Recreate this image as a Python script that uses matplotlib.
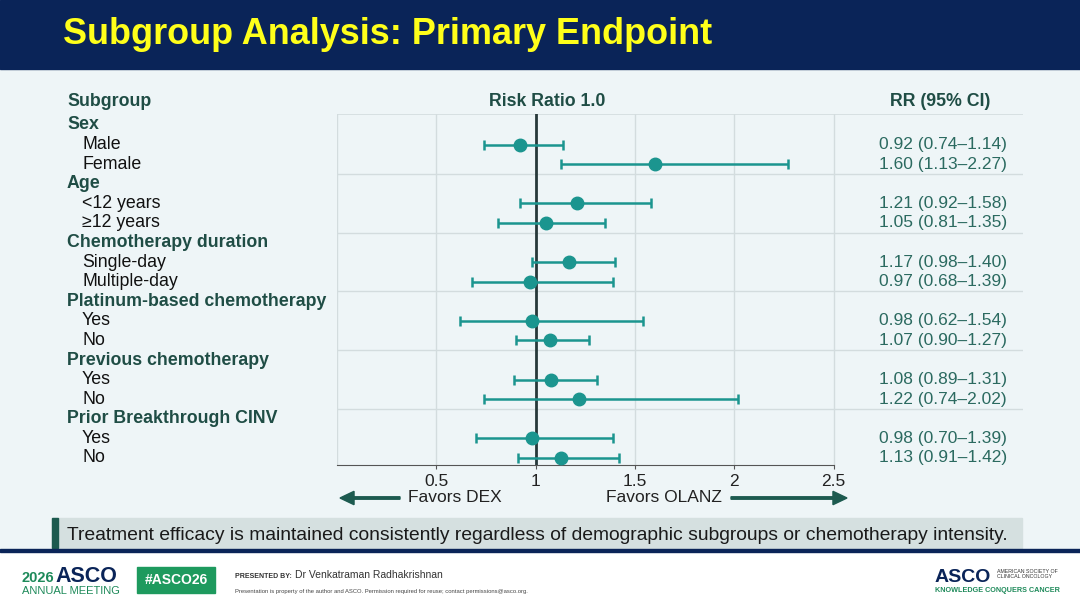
import matplotlib.pyplot as plt
from matplotlib.patches import Rectangle, FancyArrow
from matplotlib.transforms import blended_transform_factory

# Data
groups = ["Sex", "Age", "Chemotherapy duration", "Platinum-based chemotherapy",
          "Previous chemotherapy", "Prior Breakthrough CINV"]
subgroups = [["Male", "Female"], ["<12 years", "\u226512 years"], ["Single-day", "Multiple-day"],
             ["Yes", "No"], ["Yes", "No"], ["Yes", "No"]]
rr = [0.92, 1.60, 1.21, 1.05, 1.17, 0.97, 0.98, 1.07, 1.08, 1.22, 0.98, 1.13]
ci_low = [0.74, 1.13, 0.92, 0.81, 0.98, 0.68, 0.62, 0.90, 0.89, 0.74, 0.70, 0.91]
ci_high = [1.14, 2.27, 1.58, 1.35, 1.40, 1.39, 1.54, 1.27, 1.31, 2.02, 1.39, 1.42]
xticks = [0.5, 1, 1.5, 2, 2.5]

plt.rcParams['font.family'] = ['Liberation Sans', 'DejaVu Sans']

BG = '#eef5f7'
NAVY = '#0a2458'
TEAL = '#1b958f'
DKGREEN = '#1f4d45'
GRID = '#d3dcde'

fig = plt.figure(figsize=(10.8, 6.08), dpi=100, facecolor=BG)

# title bar
fig.patches.append(Rectangle((0, 1 - 69/608), 1, 69/608, transform=fig.transFigure,
                             color=NAVY, zorder=0))
fig.text(63/1080, 1 - 34/608, "Subgroup Analysis: Primary Endpoint", color='#ffff1a',
         fontsize=25.9, fontweight='bold', va='center', ha='left')

ax = fig.add_axes([337/1080, 1 - 465/608, (1023 - 337)/1080, (465 - 114)/608])
ax.set_facecolor(BG)
ax.set_xlim(0, (1023 - 337)/198.6)
ax.set_ylim(17.36, -0.56)

# row positions: heading then its items
ypos = []
heads = []
r = 0
for g, subs in zip(groups, subgroups):
    heads.append(r)
    r += 1
    for s in subs:
        ypos.append(r)
        r += 1

# grid
for x in [0] + xticks:
    ax.axvline(x, color=GRID, lw=1, zorder=0)
for h in heads[1:]:
    ax.axhline(h - 0.5, color=GRID, lw=1, zorder=0)
ax.axhline(-0.56, color=GRID, lw=1.2, zorder=0)

ax.axvline(1, color='#27393a', lw=2, zorder=2)

for y, m, lo, hi in zip(ypos, rr, ci_low, ci_high):
    ax.errorbar(m, y, xerr=[[m - lo], [hi - m]], fmt='o', color=TEAL, ms=9,
                elinewidth=1.8, capsize=3.6, capthick=1.8, zorder=3)
    ax.text(3.05, y, f"{m:.2f} ({lo:.2f}\u2013{hi:.2f})", ha='center', va='center',
            fontsize=12.5, color='#2b6a60')

for s in ['top', 'right', 'left']:
    ax.spines[s].set_visible(False)
ax.spines['bottom'].set_bounds(0, 2.5)
ax.spines['bottom'].set_color('#555555')
ax.set_xticks(xticks)
ax.set_xticklabels(['0.5', '1', '1.5', '2', '2.5'], fontsize=12.5, color='#222222')
ax.tick_params(axis='x', length=3, color='#555555', pad=3.5)
ax.set_yticks([])

# left labels
tr = blended_transform_factory(fig.transFigure, ax.transData)
for g, subs, h in zip(groups, subgroups, heads):
    ax.text(67/1080, h, g, transform=tr, fontsize=12.8, fontweight='bold',
            color=DKGREEN, va='center', ha='left')
    for k, s in enumerate(subs):
        ax.text(82/1080, h + 1 + k, s, transform=tr, fontsize=12.8, color='#111111',
                va='center', ha='left')

# column headers
fig.text(67/1080, 1 - 101/608, "Subgroup", fontsize=12.8, fontweight='bold', color=DKGREEN, va='center')
fig.text(547/1080, 1 - 101/608, "Risk Ratio 1.0", fontsize=12.8, fontweight='bold', color=DKGREEN,
         va='center', ha='center')
fig.text(940/1080, 1 - 101/608, "RR (95% CI)", fontsize=12.8, fontweight='bold', color=DKGREEN,
         va='center', ha='center')

# favours arrows
ya = 1 - 498/608
fig.text(455/1080, ya, "Favors DEX", fontsize=12.5, color='#222222', ha='center', va='center')
fig.text(664/1080, ya, "Favors OLANZ", fontsize=12.5, color='#222222', ha='center', va='center')
fig.patches.append(FancyArrow(
    400/1080, ya, -60/1080, 0, width=0.004, head_width=0.022, head_length=0.013,
    length_includes_head=True, transform=fig.transFigure, color='#1c5a4f'))
fig.patches.append(FancyArrow(
    731/1080, ya, 116/1080, 0, width=0.004, head_width=0.022, head_length=0.013,
    length_includes_head=True, transform=fig.transFigure, color='#1c5a4f'))

# takeaway banner
fig.patches.append(Rectangle((52/1080, 1 - 548/608), 970/1080, 30/608,
                             transform=fig.transFigure, color='#d5e0e0', zorder=0))
fig.patches.append(Rectangle((52/1080, 1 - 548/608), 6/1080, 30/608,
                             transform=fig.transFigure, color='#1c5a4f', zorder=1))
fig.text(67/1080, 1 - 535/608,
         "Treatment efficacy is maintained consistently regardless of demographic subgroups or chemotherapy intensity.",
         fontsize=13.9, color='#1a1a1a', va='center')

# footer
fig.patches.append(Rectangle((0, 0), 1, 1 - 552/608, transform=fig.transFigure,
                             color='white', zorder=0))
fig.patches.append(Rectangle((0, 1 - 552/608), 1, 3/608, transform=fig.transFigure,
                             color=NAVY, zorder=1))
fig.text(22/1080, 1 - 578/608, "2026", fontsize=10.5, color='#1e8a5a', fontweight='bold', va='center')
fig.text(55/1080, 1 - 576/608, "ASCO", fontsize=15.5, color=NAVY, fontweight='bold', va='center')
fig.text(22/1080, 1 - 591/608, "ANNUAL MEETING", fontsize=8, color='#1e8a5a', va='center')
fig.patches.append(Rectangle((137/1080, 1 - 593/608), 78/1080, 26/608,
                             transform=fig.transFigure, color='#1e9a5e', zorder=1))
fig.text(176/1080, 1 - 580/608, "#ASCO26", fontsize=10, color='white', fontweight='bold',
         ha='center', va='center')
fig.text(235/1080, 1 - 576/608, "PRESENTED BY:", fontsize=5, color='#333333', fontweight='bold', va='center')
fig.text(295/1080, 1 - 575/608, "Dr Venkatraman Radhakrishnan", fontsize=7.5, color='#333333', va='center')
fig.text(235/1080, 1 - 591/608,
         "Presentation is property of the author and ASCO. Permission required for reuse; contact permissions@asco.org.",
         fontsize=4.2, color='#444444', va='center')
fig.text(935/1080, 1 - 577/608, "ASCO", fontsize=14, color=NAVY, fontweight='bold', va='center')
fig.text(997/1080, 1 - 574/608, "AMERICAN SOCIETY OF\nCLINICAL ONCOLOGY", fontsize=3.8, color='#333333',
         va='center', linespacing=1.1)
fig.text(935/1080, 1 - 591/608, "KNOWLEDGE CONQUERS CANCER", fontsize=5.2, color='#1e8a5a',
         fontweight='bold', va='center')

fig.savefig("out.png", dpi=100, facecolor=fig.get_facecolor())
